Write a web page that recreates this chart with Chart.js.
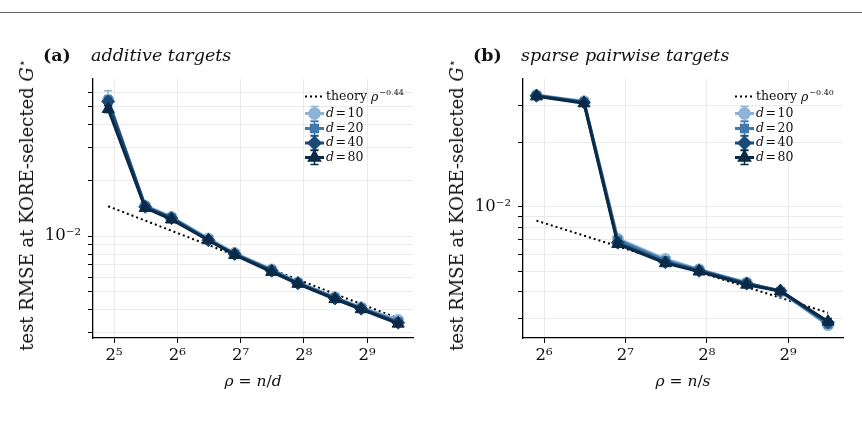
<!DOCTYPE html>
<html>
<head>
<meta charset="utf-8">
<script src="https://cdn.jsdelivr.net/npm/chart.js@4.4.1/dist/chart.umd.min.js"></script>
<style>
  body { margin: 0; background: #fff; width: 862px; height: 421px; overflow: hidden; position: relative; font-family: 'DejaVu Serif', serif; color: #111; }
  .rule { position: absolute; left: 0; top: 12px; width: 862px; border-top: 1px solid #666; }
  .panel { position: absolute; top: 0; width: 431px; height: 421px; }
  .panel canvas { position: absolute; left: 0; top: 0; }
  .tag { position: absolute; top: 47px; font-size: 17.5px; font-weight: bold; line-height: 1; white-space: nowrap; }
  .name { position: absolute; top: 47px; font-size: 17.5px; font-style: italic; line-height: 1; white-space: nowrap; }
  .ylab { position: absolute; font-size: 18px; white-space: nowrap; transform: translate(-50%, -50%) rotate(-90deg); }
  .xlab { position: absolute; font-size: 15.5px; white-space: nowrap; transform: translate(-50%, -50%); }
  sup { font-size: 12px; }
</style>
</head>
<body>
<div class="rule"></div>

<div class="panel" style="left:0">
  <canvas id="chartA" width="431" height="421"></canvas>
  <div class="tag" style="left:43px">(a)</div>
  <div class="name" style="left:91px">additive targets</div>
  <div class="ylab" style="left:26px; top:205px">test RMSE at KORE-selected <i>G</i><sup>⋆</sup></div>
  <div class="xlab" style="left:253px; top:381px"><i>ρ</i> = <i>n</i>/<i>d</i></div>
</div>

<div class="panel" style="left:430px">
  <canvas id="chartB" width="431" height="421"></canvas>
  <div class="tag" style="left:43px">(b)</div>
  <div class="name" style="left:91px">sparse pairwise targets</div>
  <div class="ylab" style="left:26px; top:205px">test RMSE at KORE-selected <i>G</i><sup>⋆</sup></div>
  <div class="xlab" style="left:253px; top:381px"><i>ρ</i> = <i>n</i>/<i>s</i></div>
</div>

<script>
// series labels and styles shared by both panels
const dValues = ['10', '20', '40', '80'];
const colors = ['#8db4d7', '#4179aa', '#1b4a76', '#0b2a47'];
const markers = ['circle', 'rect', 'rectRot', 'triangle'];
const markerSizes = [5.5, 5.5, 6.5, 7];

// (a) additive targets
const rhoA = [30, 45, 60, 90, 120, 180, 240, 360, 480, 720];
const a10 = [0.0546, 0.0146, 0.0127, 0.0097, 0.0081, 0.0066, 0.00562, 0.00468, 0.00412, 0.00352];
const a20 = [0.0542, 0.0145, 0.0126, 0.0096, 0.0080, 0.00655, 0.00558, 0.00464, 0.00408, 0.00344];
const a40 = [0.0535, 0.0144, 0.0125, 0.0095, 0.0080, 0.0065, 0.00555, 0.00460, 0.00405, 0.00340];
const a80 = [0.0487, 0.0142, 0.0123, 0.0095, 0.0079, 0.0064, 0.00552, 0.00456, 0.00402, 0.00336];
const errA10 = [0.0065, 0.0005, 0.0003, 0.0002, 0.0002, 0.00015, 0.0001, 0.0001, 0.0001, 0.0001];
const errA20 = [0.003, 0.0004, 0.0003, 0.0002, 0.00015, 0.0001, 0.0001, 0.0001, 0.0001, 0.0001];
const errA40 = [0.002, 0.0003, 0.0002, 0.0002, 0.0001, 0.0001, 0.0001, 0.0001, 0.0001, 0.0001];
const errA80 = [0.002, 0.0003, 0.0002, 0.0001, 0.0001, 0.0001, 0.0001, 0.0001, 0.0001, 0.0001];
const theoryRhoA = [30, 720];
const theoryA = [0.0145, 0.00359];
const xTicksA = [32, 64, 128, 256, 512];
const xLabelsA = ['2⁵', '2⁶', '2⁷', '2⁸', '2⁹'];
const yTicksA = [0.003, 0.004, 0.005, 0.006, 0.007, 0.008, 0.009, 0.01, 0.02, 0.03, 0.04, 0.05, 0.06];

// (b) sparse pairwise targets
const rhoB = [60, 90, 120, 180, 240, 360, 480, 720];
const b10 = [0.0335, 0.0313, 0.0071, 0.0057, 0.00510, 0.00442, 0.00400, 0.00279];
const b20 = [0.0333, 0.0311, 0.0070, 0.0056, 0.00507, 0.00440, 0.00402, 0.00282];
const b40 = [0.0332, 0.0309, 0.0068, 0.0055, 0.00502, 0.00437, 0.00405, 0.00287];
const b80 = [0.0330, 0.0306, 0.0067, 0.00545, 0.00498, 0.00432, 0.00403, 0.00290];
const errB = [0.0008, 0.0006, 0.0002, 0.00015, 0.0001, 0.0001, 0.0001, 0.0001];
const theoryRhoB = [60, 720];
const theoryB = [0.00863, 0.00319];
const xTicksB = [64, 128, 256, 512];
const xLabelsB = ['2⁶', '2⁷', '2⁸', '2⁹'];
const yTicksB = [0.003, 0.004, 0.005, 0.006, 0.007, 0.008, 0.009, 0.01, 0.02, 0.03];

const toPoints = (xs, ys) => xs.map((x, i) => ({ x: x, y: ys[i] }));

// vertical error bars with caps, drawn under each series' markers
const errorBars = {
    id: 'errorBars',
    beforeDatasetDraw(chart, args) {
        const ds = chart.data.datasets[args.index];
        if (!ds.err) return;
        const ctx = chart.ctx, xs = chart.scales.x, ys = chart.scales.y;
        ctx.save();
        ctx.strokeStyle = ds.borderColor;
        ctx.lineWidth = 1.5;
        ds.data.forEach((p, i) => {
            const px = xs.getPixelForValue(p.x);
            const top = ys.getPixelForValue(p.y + ds.err[i]);
            const bot = ys.getPixelForValue(p.y - ds.err[i]);
            ctx.beginPath();
            ctx.moveTo(px, top); ctx.lineTo(px, bot);
            ctx.moveTo(px - 4, top); ctx.lineTo(px + 4, top);
            ctx.moveTo(px - 4, bot); ctx.lineTo(px + 4, bot);
            ctx.stroke();
        });
        ctx.restore();
    }
};

// legend in the upper right corner, matplotlib style
const cornerLegend = {
    id: 'cornerLegend',
    afterDraw(chart, args, opts) {
        const ctx = chart.ctx, area = chart.chartArea;
        const hx = area.right - 108, tx = area.right - 87;
        const rows = [17.5, 34.5, 49.5, 64, 78.5];
        ctx.save();
        ctx.textBaseline = 'middle';
        ctx.fillStyle = '#111';
        chart.data.datasets.forEach((ds, i) => {
            const y = area.top + rows[i];
            if (i === 0) {
                ctx.strokeStyle = '#000';
                ctx.lineWidth = 2;
                ctx.setLineDash([2, 3]);
                ctx.beginPath(); ctx.moveTo(hx, y); ctx.lineTo(hx + 19, y); ctx.stroke();
                ctx.setLineDash([]);
                ctx.font = '12.5px "DejaVu Serif"';
                ctx.fillText('theory ', tx, y);
                let w = ctx.measureText('theory ').width;
                ctx.font = 'italic 12.5px "DejaVu Serif"';
                ctx.fillText('ρ', tx + w, y + 1);
                w += ctx.measureText('ρ').width + 1;
                ctx.font = '8px "DejaVu Serif"';
                ctx.fillText(opts.exponent, tx + w, y - 4);
                return;
            }
            const c = ds.borderColor;
            ctx.strokeStyle = c;
            ctx.lineWidth = 3;
            ctx.beginPath(); ctx.moveTo(hx, y); ctx.lineTo(hx + 19, y); ctx.stroke();
            ctx.lineWidth = 1.5;
            const mx = hx + 9.5;
            ctx.beginPath();
            ctx.moveTo(mx, y - 7); ctx.lineTo(mx, y + 7);
            ctx.moveTo(mx - 4, y - 7); ctx.lineTo(mx + 4, y - 7);
            ctx.moveTo(mx - 4, y + 7); ctx.lineTo(mx + 4, y + 7);
            ctx.stroke();
            Chart.helpers.drawPoint(ctx, { pointStyle: ds.pointStyle, radius: ds.pointRadius, borderWidth: 1 }, mx, y);
            ctx.fillStyle = c;
            ctx.fill();
            ctx.fillStyle = '#111';
            const parts = ds.label.split(' = ');
            ctx.font = 'italic 12.5px "DejaVu Serif"';
            ctx.fillText(parts[0], tx, y);
            let w = ctx.measureText(parts[0]).width + 1.5;
            ctx.font = '12.5px "DejaVu Serif"';
            ctx.fillText('=', tx + w, y);
            w += ctx.measureText('=').width + 1.5;
            ctx.fillText(parts[1], tx + w, y);
        });
        ctx.restore();
    }
};

function makePanel(id, cfg) {
    const datasets = [{
        label: 'theory',
        data: toPoints(cfg.theoryRho, cfg.theory),
        borderColor: '#000',
        borderWidth: 2,
        borderDash: [2, 3],
        pointRadius: 0,
        order: 5
    }];
    cfg.series.forEach((vals, i) => {
        datasets.push({
            label: 'd = ' + dValues[i],
            data: toPoints(cfg.rho, vals),
            err: cfg.errs[i],
            borderColor: colors[i],
            backgroundColor: colors[i],
            pointBackgroundColor: colors[i],
            pointBorderColor: colors[i],
            pointStyle: markers[i],
            pointRadius: markerSizes[i],
            pointBorderWidth: 1,
            borderWidth: 3,
            order: 4 - i
        });
    });

    const tickFont = { family: 'DejaVu Serif', size: 16.5 };
    new Chart(document.getElementById(id), {
        type: 'line',
        data: { datasets: datasets },
        plugins: [errorBars, cornerLegend],
        options: {
            responsive: false,
            animation: false,
            devicePixelRatio: 1,
            layout: { padding: { left: 0, right: 18, top: 79, bottom: 0 } },
            plugins: {
                legend: { display: false },
                tooltip: { enabled: false },
                cornerLegend: { exponent: cfg.exponent }
            },
            scales: {
                x: {
                    type: 'logarithmic',
                    min: cfg.xMin, max: cfg.xMax,
                    afterBuildTicks: s => { s.ticks = cfg.xTicks.map(v => ({ value: v })); },
                    afterFit: s => { s.height = 83; },
                    ticks: {
                        callback: v => { const k = cfg.xTicks.indexOf(v); return k >= 0 ? cfg.xLabels[k] : ''; },
                        font: tickFont, color: '#111', maxRotation: 0, autoSkip: false, padding: 3
                    },
                    grid: { color: '#ebebeb', lineWidth: 1, tickColor: '#000', tickLength: 5 },
                    border: { color: '#000', width: 1.3 }
                },
                y: {
                    type: 'logarithmic',
                    min: cfg.yMin, max: cfg.yMax,
                    afterBuildTicks: s => { s.ticks = cfg.yTicks.map(v => ({ value: v })); },
                    afterFit: s => { s.width = 93; },
                    ticks: {
                        callback: v => (Math.abs(v - 0.01) < 1e-9 ? '10⁻²' : ''),
                        font: tickFont, color: '#111', autoSkip: false, padding: 7
                    },
                    grid: { color: '#ebebeb', lineWidth: 1, tickColor: '#000', tickLength: 5 },
                    border: { color: '#000', width: 1.3 }
                }
            }
        }
    });
}

makePanel('chartA', {
    rho: rhoA, series: [a10, a20, a40, a80], errs: [errA10, errA20, errA40, errA80],
    theoryRho: theoryRhoA, theory: theoryA, exponent: '−0.44',
    xMin: 25.4, xMax: 847, yMin: 0.00281, yMax: 0.0708,
    xTicks: xTicksA, xLabels: xLabelsA, yTicks: yTicksA
});

makePanel('chartB', {
    rho: rhoB, series: [b10, b20, b40, b80], errs: [errB, errB, errB, errB],
    theoryRho: theoryRhoB, theory: theoryB, exponent: '−0.40',
    xMin: 53.5, xMax: 818, yMin: 0.00243, yMax: 0.0398,
    xTicks: xTicksB, xLabels: xLabelsB, yTicks: yTicksB
});
</script>
</body>
</html>
